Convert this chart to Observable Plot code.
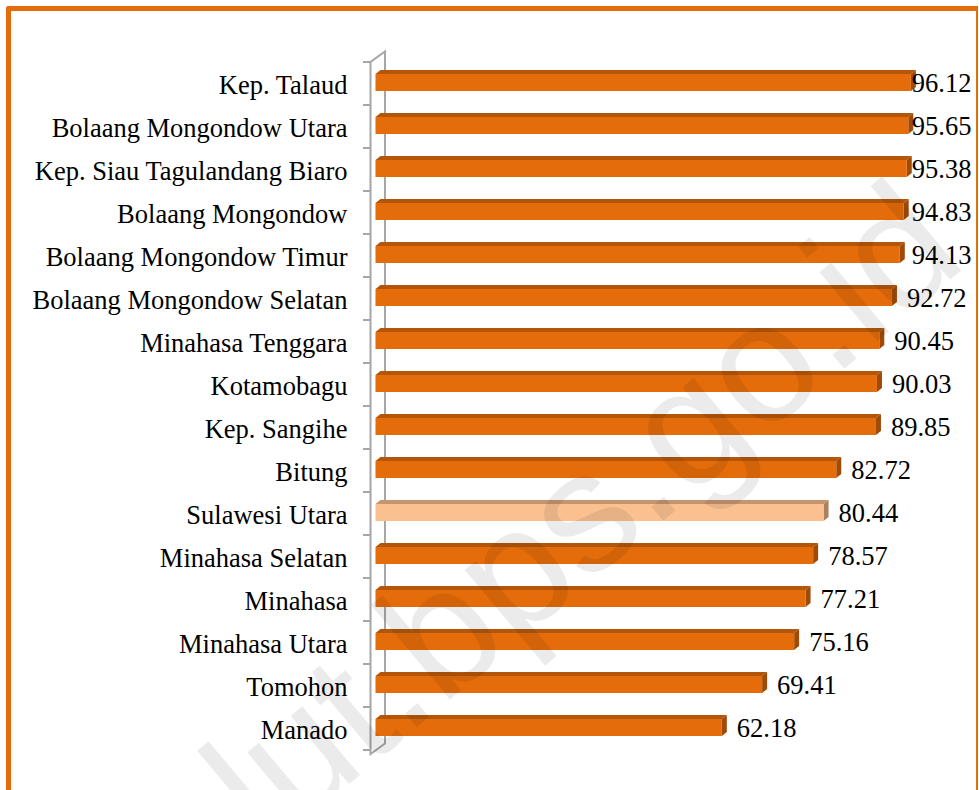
<!DOCTYPE html>
<html><head><meta charset="utf-8">
<script src="https://cdn.jsdelivr.net/npm/d3@7"></script>
<script src="https://cdn.jsdelivr.net/npm/@observablehq/plot@0.6"></script>
<style>
html,body{margin:0;padding:0;background:#fff;overflow:hidden;width:979px;height:790px;}
#chart{position:absolute;left:0;top:0;}
#frame{position:absolute;left:6px;top:6px;width:965px;height:900px;border-left:5px solid #E46C0A;border-top:5px solid #E46C0A;border-right:2px solid #E46C0A;border-top-left-radius:3px;pointer-events:none;}
#wm{position:absolute;left:0;top:0;pointer-events:none;overflow:hidden;}
</style></head><body>
<div id="chart"></div>
<div id="frame"></div>
<svg id="wm" width="979" height="790"><text x="130" y="968" text-anchor="start" transform="rotate(-40,130,968)" font-family="'Liberation Sans', Arial, sans-serif" font-size="170" fill="#000" fill-opacity="0.08">sulut.bps.go.id</text></svg>
<script>
const regions = ["Kep. Talaud","Bolaang Mongondow Utara","Kep. Siau Tagulandang Biaro","Bolaang Mongondow","Bolaang Mongondow Timur","Bolaang Mongondow Selatan","Minahasa Tenggara","Kotamobagu","Kep. Sangihe","Bitung","Sulawesi Utara","Minahasa Selatan","Minahasa","Minahasa Utara","Tomohon","Manado"];
const values = [96.12,95.65,95.38,94.83,94.13,92.72,90.45,90.03,89.85,82.72,80.44,78.57,77.21,75.16,69.41,62.18];
const highlight = "Sulawesi Utara";
const data = regions.map((name, i) => ({name, value: values[i]}));

const serif = "'Liberation Serif', 'Times New Roman', 'DejaVu Serif', serif";
const colors = {
  normal: {front: "#E46C0A", top: "#B4560A", side: "#A04A08"},
  hi: {front: "#FAC090", top: "#C6946E", side: "#AD805F"}
};

function wall(index, scales) {
  const {x, y} = scales;
  const r = y.range();
  const step = y.step ? y.step() : (r[1]-r[0])/regions.length;
  const x0 = x(0) - 5;
  const ddx = 14.5, ddy = -10.5;
  const g = d3.create("svg:g").attr("fill", "none").attr("stroke", "#A6A6A6").attr("stroke-width", 2);
  g.append("path").attr("d", `M${x0},${r[0]}L${x0},${r[1]}L${x0+ddx},${r[1]+ddy}L${x0+ddx},${r[0]+ddy}Z`);
  for (let k = 0; k <= regions.length; k++) {
    const yy = r[0] + k*step;
    g.append("line").attr("x1", x0 - 7.5).attr("x2", x0).attr("y1", yy).attr("y2", yy);
  }
  return g.node();
}

function bars3d(index, scales) {
  const {x, y} = scales;
  const bw = y.bandwidth ? y.bandwidth() : 17;
  const dx = 5, dd = -4, shift = -3;
  const g = d3.create("svg:g");
  data.forEach(d => {
    const c = d.name === highlight ? colors.hi : colors.normal;
    const x0 = x(0), x1 = x(d.value);
    const yt = y(d.name) + shift, yb = yt + bw;
    g.append("polygon").attr("fill", c.top).attr("points", [[x0,yt],[x0+dx,yt+dd],[x1+dx,yt+dd],[x1,yt]].join(" "));
    g.append("polygon").attr("fill", c.side).attr("points", [[x1,yt],[x1+dx,yt+dd],[x1+dx,yb+dd],[x1,yb]].join(" "));
    g.append("rect").attr("fill", c.front).attr("x", x0).attr("y", yt).attr("width", x1 - x0).attr("height", bw);
  });
  return g.node();
}

const chart = Plot.plot({
  width: 979,
  height: 790,
  marginLeft: 375.5,
  marginRight: 46.5,
  marginTop: 62,
  marginBottom: 36,
  style: {fontFamily: serif, fontSize: "26px", background: "transparent", color: "#000", overflow: "visible"},
  x: {domain: [0, 100], axis: null},
  y: {type: "band", domain: regions, paddingInner: 0.6, paddingOuter: 0.3, axis: null},
  marks: [
    wall,
    bars3d,
    Plot.text(data, {y: "name", text: "name", frameAnchor: "left", textAnchor: "end", dx: -28.5, fontSize: 26.5, fontFamily: serif, fill: "#000"}),
    Plot.text(data, {x: d => Math.min(d.value, 93.6), y: "name", text: d => d.value.toFixed(2), textAnchor: "start", dx: 14.5, dy: -2, fontSize: 26.5, fontFamily: serif, fill: "#000"})
  ]
});
document.getElementById("chart").appendChild(chart);
</script>
</body></html>
